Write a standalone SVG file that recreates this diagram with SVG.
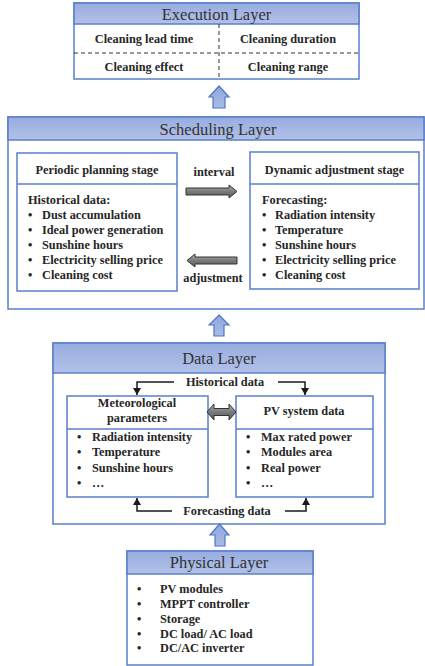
<svg xmlns="http://www.w3.org/2000/svg" width="425" height="666" viewBox="0 0 425 666">
<defs>
<linearGradient id="hdr" x1="0" y1="0" x2="0" y2="1">
<stop offset="0" stop-color="#97ace0"/>
<stop offset="1" stop-color="#b2c1e8"/>
</linearGradient>
<linearGradient id="gray" x1="0" y1="0" x2="0" y2="1">
<stop offset="0" stop-color="#b0b0b0"/>
<stop offset="0.5" stop-color="#7a7a7a"/>
<stop offset="1" stop-color="#5a5a5a"/>
</linearGradient>
<linearGradient id="blk" x1="0" y1="0" x2="0" y2="1">
<stop offset="0" stop-color="#8fa6dc"/>
<stop offset="1" stop-color="#a9bbe6"/>
</linearGradient>
<marker id="ah" markerWidth="8" markerHeight="8" refX="7" refY="4" orient="auto" markerUnits="userSpaceOnUse">
<path d="M0,0 L7,4 L0,8 Z" fill="#1a1a1a"/>
</marker>
</defs>
<style>
.box{fill:#ffffff;stroke:#5b7fca;stroke-width:1.5}
.hdr{fill:url(#hdr);stroke:#5b7fca;stroke-width:1.5}
.ht{font-family:"Liberation Serif","Times New Roman",serif;font-size:16.5px;fill:#333333;text-anchor:middle}
.t{font-family:"Liberation Serif","Times New Roman",serif;font-size:12.3px;font-weight:bold;fill:#262626}
.c{text-anchor:middle}
.dash{stroke:#333333;stroke-width:1;stroke-dasharray:4,3;fill:none}
.blue{fill:url(#blk);stroke:#4f74c4;stroke-width:1.2}
.grayarr{fill:url(#gray);stroke:#333333;stroke-width:1}
.ln{stroke:#1a1a1a;stroke-width:1.5;fill:none}
</style>

<g id="execution-layer">
<rect class="box" x="74" y="3" width="285" height="76"/>
<rect class="hdr" x="74" y="3" width="285" height="21"/>
<text class="ht" x="216.5" y="19.5">Execution Layer</text>
<line class="dash" x1="74" y1="53" x2="359" y2="53"/>
<line class="dash" x1="219" y1="24" x2="219" y2="79"/>
<text class="t c" x="144" y="43">Cleaning lead time</text>
<text class="t c" x="288" y="43">Cleaning duration</text>
<text class="t c" x="144" y="71">Cleaning effect</text>
<text class="t c" x="288" y="71">Cleaning range</text>
</g>

<g id="scheduling-layer">
<rect class="box" x="8" y="117" width="416" height="192"/>
<rect class="hdr" x="8" y="117" width="416" height="23"/>
<text class="ht" x="218" y="135">Scheduling Layer</text>
</g>

<g id="periodic-planning-stage">
<rect class="box" x="17" y="153" width="160" height="138"/>
<line x1="17" y1="184" x2="177" y2="184" stroke="#5b7fca" stroke-width="1.5"/>
<text class="t c" x="97" y="174">Periodic planning stage</text>
<text class="t" x="28" y="204">Historical data:</text>
<g class="t">
<text x="28" y="219">•</text><text x="42" y="219">Dust accumulation</text>
<text x="28" y="234">•</text><text x="42" y="234">Ideal power generation</text>
<text x="28" y="249">•</text><text x="42" y="249">Sunshine hours</text>
<text x="28" y="264">•</text><text x="42" y="264">Electricity selling price</text>
<text x="28" y="279">•</text><text x="42" y="279">Cleaning cost</text>
</g>
</g>

<g id="dynamic-adjustment-stage">
<rect class="box" x="250" y="152" width="169" height="137"/>
<line x1="250" y1="184" x2="419" y2="184" stroke="#5b7fca" stroke-width="1.5"/>
<text class="t c" x="334.5" y="174">Dynamic adjustment stage</text>
<text class="t" x="262" y="204">Forecasting:</text>
<g class="t">
<text x="262" y="219">•</text><text x="275" y="219">Radiation intensity</text>
<text x="262" y="234">•</text><text x="275" y="234">Temperature</text>
<text x="262" y="249">•</text><text x="275" y="249">Sunshine hours</text>
<text x="262" y="264">•</text><text x="275" y="264">Electricity selling price</text>
<text x="262" y="279">•</text><text x="275" y="279">Cleaning cost</text>
</g>
</g>

<g id="data-layer">
<rect class="box" x="53" y="343" width="332" height="181"/>
<rect class="hdr" x="53" y="343" width="332" height="30"/>
<text class="ht" x="219" y="364">Data Layer</text>
<text class="t c" x="225" y="386">Historical data</text>
<text class="t c" x="227" y="515">Forecasting data</text>
</g>

<g id="meteorological-parameters">
<rect class="box" x="67" y="396" width="141" height="101"/>
<line x1="67" y1="429" x2="208" y2="429" stroke="#5b7fca" stroke-width="1.5"/>
<text class="t c" x="137" y="407">Meteorological</text>
<text class="t c" x="137" y="422">parameters</text>
<g class="t">
<text x="77" y="441">•</text><text x="92" y="441">Radiation intensity</text>
<text x="77" y="456">•</text><text x="92" y="456">Temperature</text>
<text x="77" y="472">•</text><text x="92" y="472">Sunshine hours</text>
<text x="77" y="487">•</text><text x="92" y="487">…</text>
</g>
</g>

<g id="pv-system-data">
<rect class="box" x="236" y="396" width="137" height="101"/>
<line x1="236" y1="429" x2="373" y2="429" stroke="#5b7fca" stroke-width="1.5"/>
<text class="t c" x="304" y="415">PV system data</text>
<g class="t">
<text x="246" y="441">•</text><text x="261" y="441">Max rated power</text>
<text x="246" y="456">•</text><text x="261" y="456">Modules area</text>
<text x="246" y="472">•</text><text x="261" y="472">Real power</text>
<text x="246" y="487">•</text><text x="261" y="487">…</text>
</g>
</g>

<g id="physical-layer">
<rect class="box" x="127" y="551" width="186" height="114"/>
<rect class="hdr" x="127" y="551" width="186" height="23"/>
<text class="ht" x="219" y="568">Physical Layer</text>
<g class="t">
<text x="137" y="593">•</text><text x="160" y="593">PV modules</text>
<text x="137" y="608">•</text><text x="160" y="608">MPPT controller</text>
<text x="137" y="623">•</text><text x="160" y="623">Storage</text>
<text x="137" y="638">•</text><text x="160" y="638">DC load/ AC load</text>
<text x="137" y="652">•</text><text x="160" y="652">DC/AC inverter</text>
</g>
</g>

<g id="connectors">
<polygon class="blue" points="219,86 229,97 225,97 225,108 213,108 213,97 209,97"/>
<polygon class="blue" points="219,315 229,325 224,325 224,336 214,336 214,325 209,325"/>
<polygon class="blue" points="219.5,524 229,535 225,535 225,546 215,546 215,535 210,535"/>
<polygon class="grayarr" points="186,188 229,188 229,185 237,191.5 229,198 229,195 186,195"/>
<text class="t c" x="214" y="176">interval</text>
<polygon class="grayarr" points="237,257 195,257 195,254 187,260.5 195,267 195,264 237,264"/>
<text class="t c" x="213" y="282">adjustment</text>
<polygon class="grayarr" points="207,412 214,404 214,408.5 229,408.5 229,404 236,412 229,420 229,415.5 214,415.5 214,420"/>
<path class="ln" d="M174,382 H137 V395" marker-end="url(#ah)"/>
<path class="ln" d="M278,382 H305 V395" marker-end="url(#ah)"/>
<path class="ln" d="M172,511 H137 V498" marker-end="url(#ah)"/>
<path class="ln" d="M285,511 H306 V498" marker-end="url(#ah)"/>
</g>
</svg>
